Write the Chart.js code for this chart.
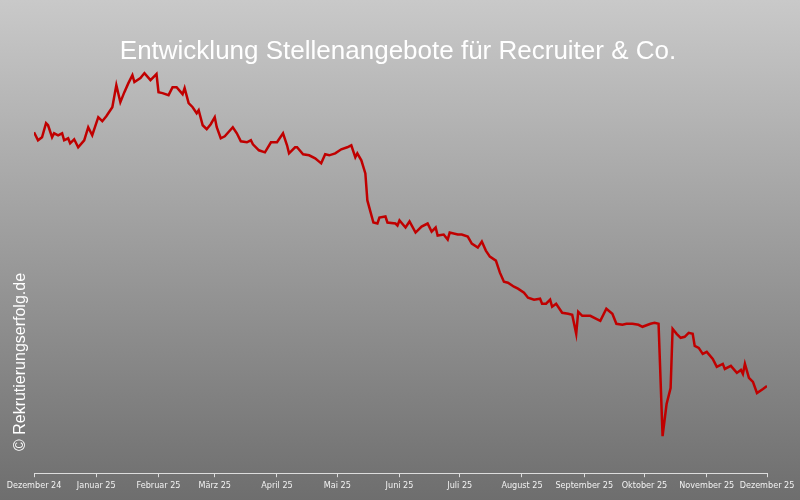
<!DOCTYPE html>
<html>
<head>
<meta charset="utf-8">
<script src="https://cdn.jsdelivr.net/npm/chart.js@4"></script>
<style>
  html, body { margin: 0; padding: 0; }
  #wrap { width: 800px; height: 500px; background: linear-gradient(#c9c9c9, #6e6e6e); }
</style>
</head>
<body>
<div id="wrap"><canvas id="jobChart" width="800" height="500"></canvas></div>
<script>
// Tage seit 1. Dezember 2024
const days = [0,2,4,6,7,9,10,12,14,15,17,18,20,22,25,27,29,32,34,36,39,41,43,45,47,49,50,53,55,58,61,62,64,67,69,71,74,75,77,79,81,82,84,86,88,90,91,93,95,99,101,103,106,108,109,112,115,118,121,124,126,127,130,131,134,137,140,143,145,147,150,153,156,158,160,161,163,165,166,169,171,172,175,176,180,181,182,185,187,190,193,196,198,200,201,204,206,207,211,213,216,218,221,223,225,227,230,232,234,236,239,241,244,246,249,252,253,255,257,258,260,263,266,268,270,271,273,277,280,282,285,288,290,293,295,298,301,303,307,309,311,313,315,317,318,320,322,324,326,328,329,331,333,335,338,340,343,344,347,350,352,353,354,356,358,360,363,365];
const offers = [340,332,335,349,347,335,339,337,339,332,334,329,333,325,332,345,337,355,351,356,365,387,370,380,389,397,390,394,399,392,398,380,379,377,385,385,378,384,369,365,359,362,347,343,348,355,345,334,336,345,339,331,330,332,328,322,320,330,330,339,327,319,325,325,318,317,314,309,318,317,319,323,325,327,315,319,312,299,272,250,249,255,256,250,249,247,252,245,251,240,246,249,241,245,237,238,233,240,238,238,236,229,225,231,222,216,212,200,191,190,186,184,180,175,173,174,169,169,173,166,169,160,159,158,139,161,157,157,154,152,164,159,149,148,149,149,148,146,149,150,149,37,69,85,144,139,135,136,140,139,127,125,119,121,114,106,109,104,107,100,103,99,109,95,91,80,84,87];
const monthDays = [0,31,62,90,121,151,182,212,243,274,304,335,365];
const monthLabels = ["Dezember 24","Januar 25","Februar 25","März 25","April 25","Mai 25","Juni 25","Juli 25","August 25","September 25","Oktober 25","November 25","Dezember 25"];

const overlay = {
    id: "overlay",
    afterDraw(chart) {
        const c = chart.ctx;
        c.save();
        c.fillStyle = "#ffffff";
        c.textAlign = "center";
        c.textBaseline = "middle";
        c.font = "26px 'Liberation Sans', Arial, sans-serif";
        c.fillText("Entwicklung Stellenangebote für Recruiter & Co.", 398, 52);
        c.translate(21, 362);
        c.rotate(-Math.PI / 2);
        c.font = "16px 'Liberation Sans', Arial, sans-serif";
        c.fillText("© Rekrutierungserfolg.de", 0, 0);
        c.restore();
    }
};

const ctx = document.getElementById("jobChart").getContext("2d");
const myChart = new Chart(ctx, {
    type: "line",
    data: {
        datasets: [
            {
                label: "Stellenangebote",
                data: days.map((d, i) => ({ x: d, y: offers[i] })),
                borderColor: "#c00000",
                borderWidth: 2.5,
                pointRadius: 0,
                tension: 0,
            },
        ],
    },
    options: {
        responsive: false,
        animation: false,
        layout: { padding: { top: 40, left: 34, right: 33, bottom: 6 } },
        plugins: { legend: { display: false }, tooltip: { enabled: false } },
        scales: {
            x: {
                type: "linear",
                min: 0,
                max: 365,
                afterBuildTicks: (axis) => { axis.ticks = monthDays.map(v => ({ value: v })); },
                ticks: {
                    autoSkip: false,
                    maxRotation: 0,
                    color: "#f2f2f2",
                    font: { size: 9, family: "'Liberation Sans Narrow', 'DejaVu Sans Condensed', sans-serif" },
                    callback: (v) => monthLabels[monthDays.indexOf(v)],
                },
                grid: { drawOnChartArea: false, color: "#dddddd", tickLength: 4 },
                border: { color: "#dddddd" },
            },
            y: {
                display: false,
                min: 0,
                max: 432,
            },
        },
    },
    plugins: [overlay],
});
</script>
</body>
</html>
